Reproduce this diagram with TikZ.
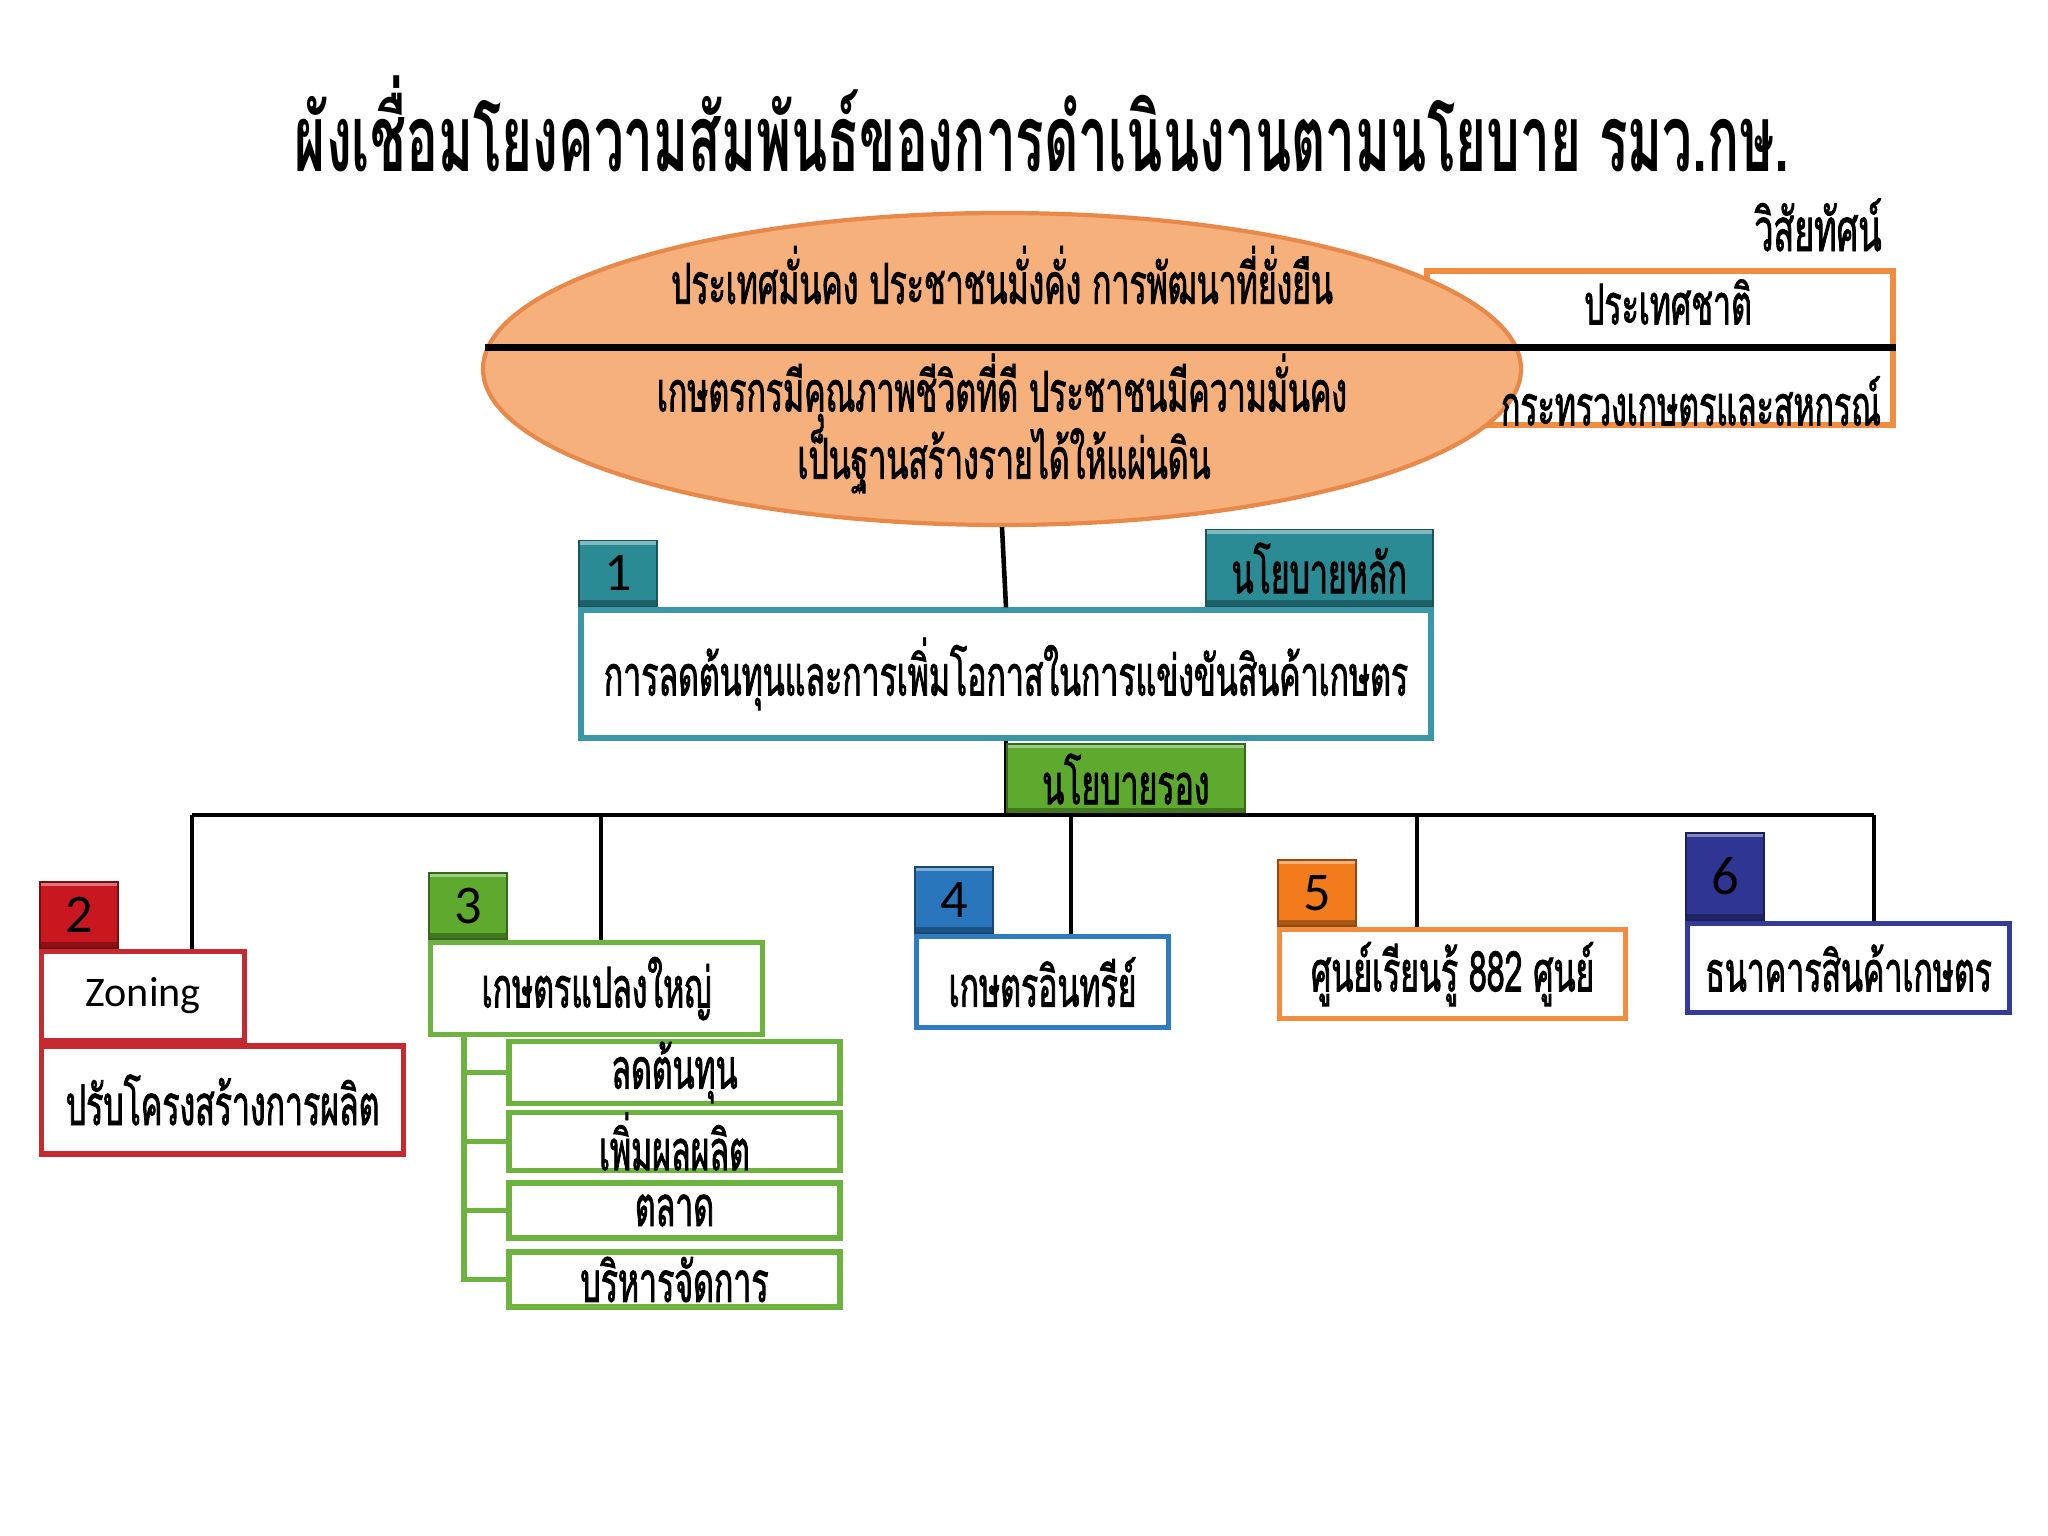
\documentclass[tikz,border=0pt]{standalone}
\usepackage{fontspec}
\newfontfamily\thai[Script=Thai,FakeStretch=0.57,FakeBold=1.4]{Loma}
\newfontfamily\thaihead[Script=Thai,FakeStretch=0.57]{Loma Bold}
\setsansfont{Carlito}
\usetikzlibrary{shapes.geometric,positioning}

\definecolor{peach}{HTML}{F5B07C}
\definecolor{peachline}{HTML}{E8894A}
\definecolor{orangec}{HTML}{F27C1C}
\definecolor{tealc}{HTML}{2B8B95}
\definecolor{greenc}{HTML}{5EAA2E}
\definecolor{redc}{HTML}{C8171E}
\definecolor{bluec}{HTML}{2A76BC}
\definecolor{navyc}{HTML}{2E3592}
\definecolor{tealline}{HTML}{3A97A5}
\definecolor{greenline}{HTML}{6DB33F}
\definecolor{redline}{HTML}{C42A30}
\definecolor{blueline}{HTML}{2F7BC0}
\definecolor{orangeline}{HTML}{F28C3F}
\definecolor{navyline}{HTML}{343A98}

\tikzset{
  conn/.style={line width=1.3pt, black},
  pbox/.style={draw=#1, line width=1.5pt, fill=white, inner sep=0pt, align=center},
  numbadge/.style={fill=#1, draw=#1!60!black, line width=0.5pt,
    minimum width=0.78cm, minimum height=0.66cm, inner sep=0pt,
    font=\sffamily\fontsize{15.5}{15.5}\selectfont,
    path picture={
      \fill[#1!70!black] (path picture bounding box.south west)
        rectangle ([yshift=1.8pt]path picture bounding box.south east);
      \fill[#1!60!white] (path picture bounding box.north west)
        rectangle ([yshift=-1.2pt]path picture bounding box.north east);
    }},
  th/.style={font=\thai\fontsize{#1}{#1}\selectfont},
}

\begin{document}
\begin{tikzpicture}
  \useasboundingbox (0,0) rectangle (20.48,15.36);
  \fill[white] (0,0) rectangle (20.48,15.36);

  % title
  \node[font=\thaihead\fontsize{26.5}{26.5}\selectfont] (title) at (10.42,14.12)
    {ผังเชื่อมโยงความสัมพันธ์ของการดำเนินงานตามนโยบาย รมว.กษ.};

  % vision
  \node[draw=orangeline, line width=1.6pt, minimum width=4.66cm, minimum height=1.54cm,
    anchor=north east] (visbox) at (18.96,12.68) {};
  \node[th=17, anchor=east] (vislabel) at (18.94,13.11) {วิสัยทัศน์};
  \node[ellipse, draw=peachline, fill=peach, line width=1.2pt, minimum width=10.38cm,
    minimum height=3.12cm, inner sep=0pt] (vision) at (10.02,11.67) {};
  \coordinate (divL) at (4.85,11.88);
  \coordinate (divR) at (18.96,11.88);
  \draw[line width=2pt] (divL) -- (divR);
  \node[th=16] (vis1) at (10.02,12.61) {ประเทศมั่นคง ประชาชนมั่งคั่ง การพัฒนาที่ยั่งยืน};
  \node[th=16] (vis2) at (10.02,11.46) {เกษตรกรมีคุณภาพชีวิตที่ดี ประชาชนมีความมั่นคง};
  \node[th=16] (vis3) at (10.04,10.76) {เป็นฐานสร้างรายได้ให้แผ่นดิน};
  \node[th=16] (nation) at (16.68,12.34) {ประเทศชาติ};
  \node[th=16] (ministry) at (16.91,11.35) {กระทรวงเกษตรและสหกรณ์};

  % main policy
  \node[pbox=tealline, minimum width=8.50cm, minimum height=1.28cm, th=16] (main)
    at (10.06,8.62) {การลดต้นทุนและการเพิ่มโอกาสในการแข่งขันสินค้าเกษตร};
  \node[numbadge=tealc, anchor=south west] (b1) at (main.north west) {1};
  \node[numbadge=tealc, anchor=south east, minimum width=2.27cm, minimum height=0.77cm,
    th=16] (mainlabel) at (main.north east) {นโยบายหลัก};
  \draw[conn] (vision.south) -- (main.north);

  % secondary policies
  \coordinate (busL) at (1.92,7.21);
  \coordinate (busR) at (18.74,7.21);
  \draw[conn] (main.south) -- (main.south |- busL);
  \node[numbadge=greenc, anchor=south west, minimum width=2.38cm, minimum height=0.70cm,
    th=16] (sublabel) at (main.south |- busL) {นโยบายรอง};
  \draw[conn] (busL) -- (busR);

  \node[pbox=redline, minimum width=2.03cm, minimum height=0.89cm, anchor=north west,
    font=\sffamily\fontsize{12}{12}\selectfont] (zoning) at (0.39,5.87) {Zoning};
  \node[pbox=redline, minimum width=3.62cm, minimum height=1.08cm, anchor=north west,
    th=16] (restruct) at (zoning.south west) {ปรับโครงสร้างการผลิต};
  \node[numbadge=redc, anchor=south west] (b2) at (zoning.north west) {2};

  \node[pbox=greenline, minimum width=3.32cm, minimum height=0.92cm, anchor=north west,
    th=16] (big3) at (4.28,5.96) {เกษตรแปลงใหญ่};
  \node[numbadge=greenc, anchor=south west] (b3) at (big3.north west) {3};
  \coordinate (trunk) at ([xshift=0.36cm]big3.south west);
  \foreach \t [count=\i] in {ลดต้นทุน,เพิ่มผลผลิต,ตลาด,บริหารจัดการ}
    \node[pbox=greenline, minimum width=3.31cm, minimum height=0.55cm, th=16] (sub\i)
      at (6.745,{4.635-0.69*(\i-1)}) {\t};
  \foreach \i in {1,...,4}
    \draw[greenline, line width=1.5pt] (trunk) |- (sub\i.west);

  \node[pbox=blueline, minimum width=2.52cm, minimum height=0.91cm, anchor=north west,
    th=16] (organic) at (9.14,6.02) {เกษตรอินทรีย์};
  \node[numbadge=bluec, anchor=south west] (b4) at (organic.north west) {4};
  \node[pbox=orangeline, minimum width=3.46cm, minimum height=0.89cm, anchor=north west,
    th=16] (learn) at (12.77,6.09) {ศูนย์เรียนรู้ 882 ศูนย์};
  \node[numbadge=orangec, anchor=south west] (b5) at (learn.north west) {5};
  \node[pbox=navyline, minimum width=3.22cm, minimum height=0.89cm, anchor=north west,
    th=16] (bank) at (16.85,6.15) {ธนาคารสินค้าเกษตร};
  \node[numbadge=navyc, anchor=south west, minimum height=0.87cm] (b6) at (bank.north west) {6};

  \foreach \n/\dx in {zoning/1.53,big3/1.73,organic/1.57,learn/1.40,bank/1.89}
    \draw[conn] ([xshift=\dx cm]\n.north west) -- ([xshift=\dx cm]\n.north west |- busL);
\end{tikzpicture}
\end{document}
